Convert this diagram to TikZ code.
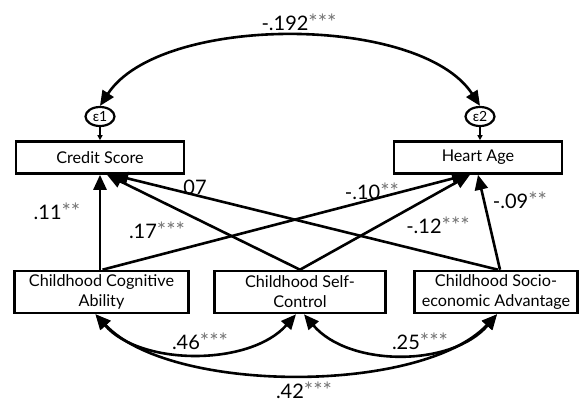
\documentclass[tikz,border=0pt]{standalone}
\usepackage{fontspec}
\setmainfont{Lato}
\usetikzlibrary{arrows.meta,shapes.geometric,calc}
\newcommand\mystars[1]{{\fontsize{22}{22}\selectfont\textcolor{black!55}{#1}}}
\begin{document}
\begin{tikzpicture}[x=1pt,y=-1pt,
  box/.style={draw,line width=2.6pt,rectangle,inner sep=0pt,align=center,
    font=\fontsize{16.2}{20}\selectfont},
  lab/.style={inner sep=0pt,font=\fontsize{20}{22}\selectfont},
  err/.style={draw,ellipse,line width=2.2pt,minimum width=29pt,minimum height=19pt,
    inner sep=0pt,font=\fontsize{14}{14}\selectfont},
  arr/.style={line width=2.6pt,-{Triangle[length=15pt,width=13pt]}},
  arrtwo/.style={line width=2.6pt,{Triangle[length=15pt,width=13pt]}-{Triangle[length=15pt,width=13pt]}},
  thin/.style={line width=1.3pt,-{Triangle[length=5pt,width=5pt]}}]
\useasboundingbox (0,0) rectangle (579,402);

% outcome boxes
\node[box,minimum width=168pt,minimum height=32pt] (cs) at (100,157.5) {Credit Score};
\node[box,minimum width=168pt,minimum height=32pt] (ha) at (478,157.5) {Heart Age};
% error terms
\node[err] (e1) at (100,116.5) {ε1};
\node[err] (e2) at (480,116.5) {ε2};
% predictor boxes
\node[box,minimum width=174pt,minimum height=42pt] (cog) at (101.5,292) {Childhood Cognitive\\Ability};
\node[box,minimum width=171pt,minimum height=42pt] (sc) at (300,292) {Childhood Self-\\Control};
\node[box,minimum width=163pt,minimum height=42pt] (soc) at (496,292) {Childhood Socio-\\economic Advantage};

% error arrows
\draw[thin] (e1.south) -- (cs.north -| e1.south);
\draw[thin] (e2.south) -- (ha.north -| e2.south);
% covariance of errors
\draw[arrtwo] (e1.north) .. controls +(60,-92) and +(-60,-92) .. (e2.north);

% paths
\draw[arr] (cs.south |- cog.north) -- (cs.south);
\draw[arr] ([xshift=1pt]cog.north) -- ([xshift=-11pt]ha.south);
\draw[arr] (sc.north) -- ([xshift=-8pt]ha.south);
\draw[arr] ([xshift=4pt]soc.north) -- (ha.south);
\draw[arr] (sc.north) -- ([xshift=7pt]cs.south);
\draw[arr] ([xshift=2pt]soc.north) -- ([xshift=13pt]cs.south);

% predictor covariances
\draw[arrtwo] ([xshift=-6pt]cog.south) .. controls +(45,52) and +(-46,52) .. ([xshift=-4pt]sc.south);
\draw[arrtwo] ([xshift=4pt]sc.south) .. controls +(45,53) and +(-45,53) .. ([xshift=1pt]soc.south);
\draw[arrtwo] ([xshift=-6pt]cog.south) .. controls +(75,80) and +(-75,80) .. ([xshift=1pt]soc.south);

% labels
\node[lab] (l192) at (299,22) {-.192\mystars{***}};
\node[lab] (l11) at (57,211) {.11\mystars{**}};
\node[lab] (l17) at (157,230) {.17\mystars{***}};
\node[lab] (l07) at (195,187) {07};
\node[lab] (l10) at (372,191) {-.10\mystars{**}};
\node[lab] (l12) at (438,225) {-.12\mystars{***}};
\node[lab] (l09) at (520,200) {-.09\mystars{**}};
\node[lab] (l46) at (200,341) {.46\mystars{***}};
\node[lab] (l25) at (420,341) {.25\mystars{***}};
\node[lab] (l42) at (304,390) {.42\mystars{***}};
\end{tikzpicture}
\end{document}
